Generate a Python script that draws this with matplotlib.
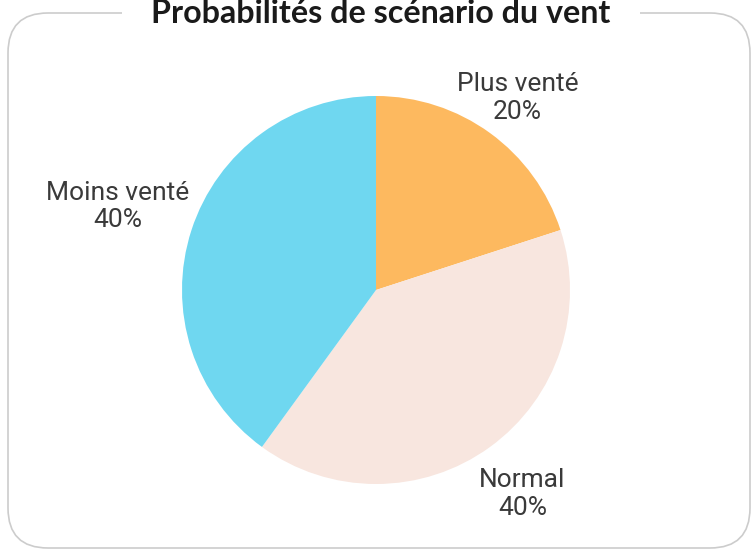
import matplotlib.pyplot as plt
from matplotlib.patches import FancyBboxPatch

labels = ["Plus venté", "Normal", "Moins venté"]
values = [20, 40, 40]
colors = ["#FDB95F", "#F8E6DF", "#6FD7F0"]
title = "Probabilités de scénario du vent"

W, H = 752, 550
fig = plt.figure(figsize=(W / 100, H / 100), dpi=100)
fig.patch.set_facecolor("white")

# card border (pixel coords, y up)
frame = fig.add_axes([0, 0, 1, 1])
frame.set_xlim(0, W); frame.set_ylim(0, H); frame.axis("off")
frame.add_patch(FancyBboxPatch((8 + 40, 2 + 40), 742 - 80, 535 - 80,
                               boxstyle="round,pad=40", fc="none", ec="#cccccc", lw=1.2))
frame.text(381, H - 23, title, ha="center", va="baseline", fontsize=23.2,
           fontfamily="Lato", fontweight="bold", color="#1a1a1a",
           bbox=dict(fc="white", ec="none", pad=21))

# pie in pixel coordinates
ax = fig.add_axes([0, 0, 1, 1])
ax.set_xlim(0, W); ax.set_ylim(0, H); ax.axis("off")
cx, cy, r = 376, H - 290, 194
wedges, _ = ax.pie(values, colors=colors, startangle=90, counterclock=False,
                   center=(cx, cy), radius=r, frame=True)
ax.set_xlim(0, W); ax.set_ylim(0, H); ax.axis("off")

# label offsets relative to the pie (radius units)
label_pos = [(0.73, 0.99), (0.755, -1.05), (-1.33, 0.43)]
for lab, v, (dx, dy) in zip(labels, values, label_pos):
    ax.text(cx + dx * r, cy + dy * r, f"{lab}\n{v}%", ha="center", va="center",
            fontsize=19, fontfamily="Roboto", color="#3a3a3a", linespacing=1.2)

fig.savefig("out.png", dpi=100)
